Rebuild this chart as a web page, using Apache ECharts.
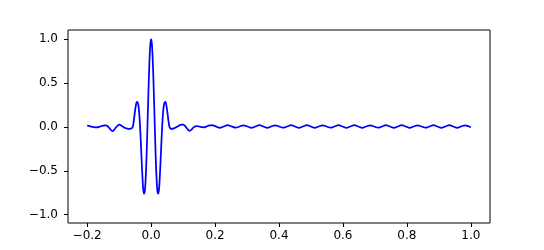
<!DOCTYPE html>
<html>
<head>
<meta charset="utf-8">
<script src="https://cdn.jsdelivr.net/npm/echarts@6/dist/echarts.min.js"></script>
<style>
html,body{margin:0;padding:0;background:#fff;}
#chart{width:544px;height:250px;}
</style>
</head>
<body>
<div id="chart"></div>
<script>
// Time samples (x) and signal values (y)
var time = [
  -0.200,-0.195,-0.190,-0.180,-0.170,-0.160,-0.150,-0.142,-0.135,-0.128,
  -0.121,-0.115,-0.110,-0.104,-0.099,-0.093,-0.087,-0.081,-0.075,-0.069,
  -0.064,-0.060,-0.0575,-0.055,-0.0525,-0.050,-0.0475,-0.045,-0.0425,-0.040,
  -0.0375,-0.035,-0.0325,-0.030,-0.0275,-0.025,-0.0225,-0.020,-0.0175,-0.015,
  -0.0125,-0.010,-0.0075,-0.005,-0.0025,0.000,
  0.0025,0.005,0.0075,0.010,0.0125,0.015,0.0175,0.020,0.0225,0.025,
  0.0275,0.030,0.0325,0.035,0.0375,0.040,0.0425,0.045,0.0475,0.050,
  0.0525,0.055,0.0575,0.060,0.064,0.069,0.074,0.080,0.087,0.094,
  0.100,0.106,0.111,0.116,0.121,0.126,0.132,0.138,0.145,0.152,
  0.160,0.166,0.172,0.180,0.190,
  0.2024,0.2148,0.2272,0.2395,0.2519,0.2643,0.2767,0.2890,0.3014,0.3138,
  0.3262,0.3385,0.3509,0.3633,0.3757,0.3880,0.4004,0.4128,0.4252,0.4375,
  0.4499,0.4623,0.4747,0.4870,0.4994,0.5118,0.5242,0.5365,0.5489,0.5613,
  0.5737,0.5860,0.5984,0.6108,0.6232,0.6355,0.6479,0.6603,0.6727,0.6850,
  0.6974,0.7098,0.7222,0.7345,0.7469,0.7593,0.7717,0.7840,0.7964,0.8088,
  0.8212,0.8335,0.8459,0.8583,0.8707,0.8830,0.8954,0.9078,0.9202,0.9325,
  0.9449,0.9573,0.9697,0.9820,0.9944,1.0000
];
var signal = [
  0.015,0.012,0.006,-0.002,-0.005,0.004,0.014,0.018,0.005,-0.025,
  -0.048,-0.030,-0.005,0.018,0.025,0.015,0.000,-0.012,-0.019,-0.022,
  -0.020,-0.013,0.000,0.050,0.120,0.190,0.250,0.285,0.280,0.250,
  0.170,0.035,-0.150,-0.355,-0.545,-0.700,-0.760,-0.740,-0.620,-0.410,
  -0.125,0.195,0.505,0.770,0.940,1.000,
  0.940,0.770,0.505,0.195,-0.125,-0.410,-0.620,-0.740,-0.760,-0.700,
  -0.545,-0.355,-0.150,0.035,0.170,0.250,0.280,0.285,0.250,0.190,
  0.120,0.050,0.000,-0.015,-0.022,-0.020,-0.012,0.000,0.015,0.026,
  0.027,0.012,-0.012,-0.035,-0.045,-0.032,-0.008,0.006,0.008,0.003,
  -0.003,-0.004,0.003,0.015,0.022,
  0.006,-0.010,0.005,0.020,0.006,-0.009,0.005,0.019,0.005,-0.010,
  0.005,0.020,0.005,-0.010,0.005,0.019,0.005,-0.009,0.005,0.020,
  0.005,-0.010,0.005,0.020,0.005,-0.010,0.005,0.019,0.005,-0.009,
  0.005,0.020,0.005,-0.010,0.005,0.020,0.005,-0.010,0.005,0.019,
  0.005,-0.009,0.005,0.020,0.005,-0.010,0.005,0.020,0.005,-0.010,
  0.005,0.019,0.005,-0.009,0.005,0.020,0.005,-0.010,0.005,0.020,
  0.005,-0.010,0.005,0.019,0.005,-0.005
];
var xTicks = [-0.2, 0.0, 0.2, 0.4, 0.6, 0.8, 1.0];
var yTicks = [-1.0, -0.5, 0.0, 0.5, 1.0];

var points = time.map(function (t, i) { return [t, signal[i]]; });

function fmt(v) {
  return (v < 0 ? '\u2212' : '') + Math.abs(v).toFixed(1);
}

var chart = echarts.init(document.getElementById('chart'), null, { renderer: 'canvas' });
chart.setOption({
  animation: false,
  backgroundColor: '#ffffff',
  grid: {
    left: 68, right: 54, top: 30, bottom: 27,
    show: true, borderColor: '#000000', borderWidth: 1, backgroundColor: 'transparent'
  },
  xAxis: {
    type: 'value',
    min: -0.26, max: 1.06,
    axisLine: { show: false, onZero: false },
    splitLine: { show: false },
    axisTick: { show: true, length: 4, lineStyle: { color: '#000', width: 1 }, customValues: xTicks },
    axisLabel: {
      customValues: xTicks, formatter: fmt, color: '#000',
      fontSize: 12, fontFamily: 'DejaVu Sans', margin: 7
    }
  },
  yAxis: {
    type: 'value',
    min: -1.095, max: 1.105,
    axisLine: { show: false, onZero: false },
    splitLine: { show: false },
    axisTick: { show: true, length: 4, lineStyle: { color: '#000', width: 1 }, customValues: yTicks },
    axisLabel: {
      customValues: yTicks, formatter: fmt, color: '#000',
      fontSize: 12, fontFamily: 'DejaVu Sans', margin: 10
    }
  },
  series: [{
    type: 'line',
    data: points,
    showSymbol: false,
    symbol: 'none',
    smooth: 0.3,
    lineStyle: { color: '#0000ff', width: 1.75 },
    clip: true
  }]
});
</script>
</body>
</html>
